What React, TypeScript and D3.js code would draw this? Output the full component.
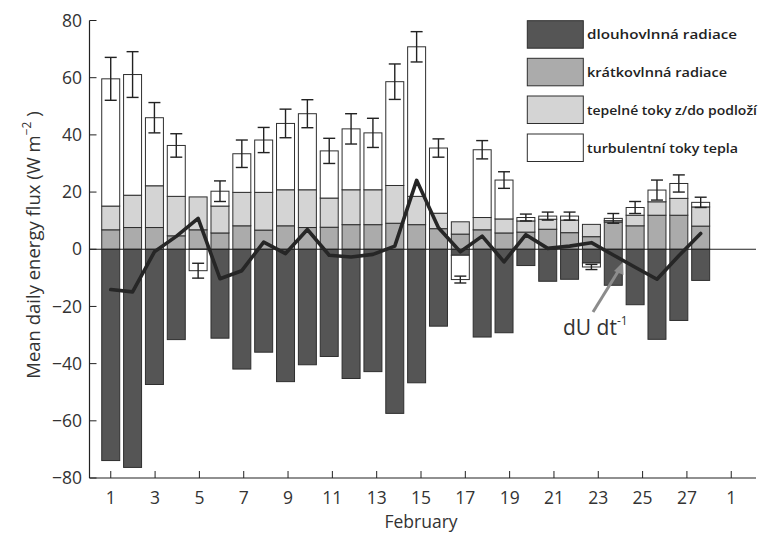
import React from 'react';
import * as d3 from 'd3';

const days = d3.range(1, 29);
const longwave = [-73.9, -76.3, -47.3, -31.6, 0, -31.1, -41.9, -36.0, -46.3, -40.4, -37.5, -45.2, -42.8, -57.4, -46.7, -26.9, -2.1, -30.7, -29.2, -5.7, -11.2, -10.5, -4.8, -12.6, -19.4, -31.5, -24.9, -10.9];
const shortwave = [6.8, 7.6, 7.6, 4.7, 6.8, 5.7, 8.2, 6.7, 8.2, 7.6, 7.7, 8.6, 8.6, 9.1, 8.6, 7.2, 5.3, 6.8, 5.7, 6.0, 7.0, 5.8, 4.4, 9.5, 8.2, 11.9, 11.9, 8.1];
const groundHeat = [8.3, 11.3, 14.6, 13.8, 11.5, 9.4, 11.7, 13.2, 12.6, 13.2, 10.2, 12.2, 12.2, 13.2, 9.9, 5.4, 4.3, 4.3, 4.9, 3.9, 3.5, 4.4, 4.3, 0.5, 3.7, 4.7, 5.9, 6.7];
const turbulent = [44.5, 42.2, 23.8, 17.8, -7.5, 5.2, 13.5, 18.3, 23.2, 26.6, 16.5, 21.3, 19.9, 36.3, 52.3, 22.8, -8.5, 23.7, 13.6, 1.2, 1.1, 1.4, -1.4, 0.8, 2.7, 4.1, 5.2, 1.6];
const turbulentErr = [7.5, 8.0, 5.3, 4.1, 2.6, 3.6, 4.8, 4.4, 5.0, 4.9, 4.4, 5.3, 5.1, 6.2, 5.3, 3.2, 1.2, 3.2, 2.9, 1.2, 1.4, 1.4, 0.9, 1.7, 2.1, 3.5, 3.0, 1.8];
const dUdt = [-14.1, -14.9, -0.9, 4.5, 10.8, -10.3, -7.5, 2.5, -1.5, 6.9, -2.1, -2.7, -1.8, 1.1, 24.1, 7.5, -0.9, 4.6, -4.4, 5.1, 0.3, 1.1, 2.3, -2.0, -6.3, -10.5, -2.3, 5.5];

const xTickDays = [1, 3, 5, 7, 9, 11, 13, 15, 17, 19, 21, 23, 25, 27, 29];
const xTickLabels = ['1', '3', '5', '7', '9', '11', '13', '15', '17', '19', '21', '23', '25', '27', '1'];
const yTicks = [-80, -60, -40, -20, 0, 20, 40, 60, 80];

const legendLabels = ['dlouhovlnná radiace', 'krátkovlnná radiace', 'tepelné toky z/do podloží', 'turbulentní toky tepla'];
const legendWidths = [150, 140, 170, 151];

const C_LW = '#555555';
const C_SW = '#ababab';
const C_G = '#d4d4d4';
const C_T = '#ffffff';
const legendColors = [C_LW, C_SW, C_G, C_T];

const FONT = '"Open Sans", "DejaVu Sans", sans-serif';

export default function App() {
  const y = d3.scaleLinear().domain([-80, 80]).range([478, 20.5]);
  const xAxis = d3.scaleLinear().domain([0, 30]).range([88.6, 753.4]);
  const xBar = d3.scaleBand<number>().domain(days).range([99.8, 711.6]).paddingInner(0.177).paddingOuter(0.0885);
  const bw = xBar.bandwidth();
  const axisLeft = 89.5;
  const axisRight = 756;
  const axisBottom = 478;

  type Seg = { day: number; y0: number; y1: number; color: string };
  const segs: Seg[] = [];
  const errs: { day: number; v: number; e: number }[] = [];
  days.forEach((d, i) => {
    const sw = shortwave[i];
    const g = groundHeat[i];
    const t = turbulent[i];
    const lw = longwave[i];
    if (lw < 0) segs.push({ day: d, y0: 0, y1: lw, color: C_LW });
    segs.push({ day: d, y0: 0, y1: sw, color: C_SW });
    segs.push({ day: d, y0: sw, y1: sw + g, color: C_G });
    if (t > 0) {
      segs.push({ day: d, y0: sw + g, y1: sw + g + t, color: C_T });
      errs.push({ day: d, v: sw + g + t, e: turbulentErr[i] });
    } else {
      segs.push({ day: d, y0: lw, y1: lw + t, color: C_T });
      errs.push({ day: d, v: lw + t, e: turbulentErr[i] });
    }
  });

  const line = d3
    .line<number>()
    .x((_, i) => (xBar(days[i]) as number) + bw / 2)
    .y((v) => y(v));

  const legendX = 527.3;
  const legendYs = [20.7, 58.3, 96, 134];

  return (
    <svg width={764} height={536} style={{ position: 'absolute', left: 0, top: 0, background: '#fff' }}>
      {segs.map((s, k) => {
        const top = y(Math.max(s.y0, s.y1));
        const bot = y(Math.min(s.y0, s.y1));
        return (
          <rect
            key={'s' + k}
            x={xBar(s.day)}
            y={top}
            width={bw}
            height={Math.max(0, bot - top)}
            fill={s.color}
            stroke="#2e2e2e"
            strokeWidth={1}
          />
        );
      })}
      <line x1={axisLeft} x2={axisRight} y1={y(0)} y2={y(0)} stroke="#222" strokeWidth={1} />
      {errs.map((e, k) => {
        const cx = (xBar(e.day) as number) + bw / 2;
        return (
          <g key={'e' + k} stroke="#222" strokeWidth={1.4}>
            <line x1={cx} x2={cx} y1={y(e.v + e.e)} y2={y(e.v - e.e)} />
            <line x1={cx - 6} x2={cx + 6} y1={y(e.v + e.e)} y2={y(e.v + e.e)} />
            <line x1={cx - 6} x2={cx + 6} y1={y(e.v - e.e)} y2={y(e.v - e.e)} />
          </g>
        );
      })}
      <path d={line(dUdt) || ''} fill="none" stroke="#262626" strokeWidth={3.6} strokeLinejoin="round" strokeLinecap="round" />

      {/* annotation arrow */}
      <line x1={593} y1={312} x2={619} y2={270} stroke="#8c8c8c" strokeWidth={3} />
      <path d="M 623 262 L 614 271 L 623.5 275 Z" fill="#8c8c8c" />
      <text x={563} y={335} fontFamily={FONT} fontSize={21} fill="#333">
        dU dt<tspan fontSize={12} dy={-10}>-1</tspan>
      </text>

      {/* axes */}
      <line x1={axisLeft} x2={axisLeft} y1={y(80)} y2={axisBottom} stroke="#222" strokeWidth={1.2} />
      <line x1={axisLeft} x2={axisRight} y1={axisBottom} y2={axisBottom} stroke="#222" strokeWidth={1.2} />
      {yTicks.map((t) => (
        <g key={'yt' + t}>
          <line x1={axisLeft} x2={axisLeft + 7} y1={y(t)} y2={y(t)} stroke="#222" strokeWidth={1} />
          <text x={82} y={y(t)} dy="0.35em" textAnchor="end" fontFamily={FONT} fontSize={17.5} fill="#333">
            {t < 0 ? '\u2212' + Math.abs(t) : String(t)}
          </text>
        </g>
      ))}
      {xTickDays.map((d, i) => (
        <g key={'xt' + d}>
          <line x1={xAxis(d)} x2={xAxis(d)} y1={axisBottom} y2={axisBottom - 7} stroke="#222" strokeWidth={1} />
          <text x={xAxis(d)} y={504} textAnchor="middle" fontFamily={FONT} fontSize={17.5} fill="#333">
            {xTickLabels[i]}
          </text>
        </g>
      ))}
      <text x={421} y={528} textAnchor="middle" fontFamily={FONT} fontSize={17.5} fill="#333">
        February
      </text>
      <text
        transform={`translate(40, 245) rotate(-90)`}
        textAnchor="middle"
        fontFamily={FONT}
        fontSize={18.5}
        fill="#333"
      >
        Mean daily energy flux (W m<tspan fontSize={12} dy={-9}>−2</tspan>
        <tspan dy={9}> )</tspan>
      </text>

      {/* legend */}
      {legendLabels.map((lab, i) => (
        <g key={'lg' + i}>
          <rect x={legendX} y={legendYs[i]} width={56} height={27.5} fill={legendColors[i]} stroke="#2e2e2e" strokeWidth={1} />
          <text
            x={587}
            y={legendYs[i] + 14}
            dy="0.35em"
            fontFamily={FONT}
            fontWeight={600}
            fontSize={13}
            fill="#222"
            textLength={legendWidths[i]}
            lengthAdjust="spacingAndGlyphs"
          >
            {lab}
          </text>
        </g>
      ))}
    </svg>
  );
}
